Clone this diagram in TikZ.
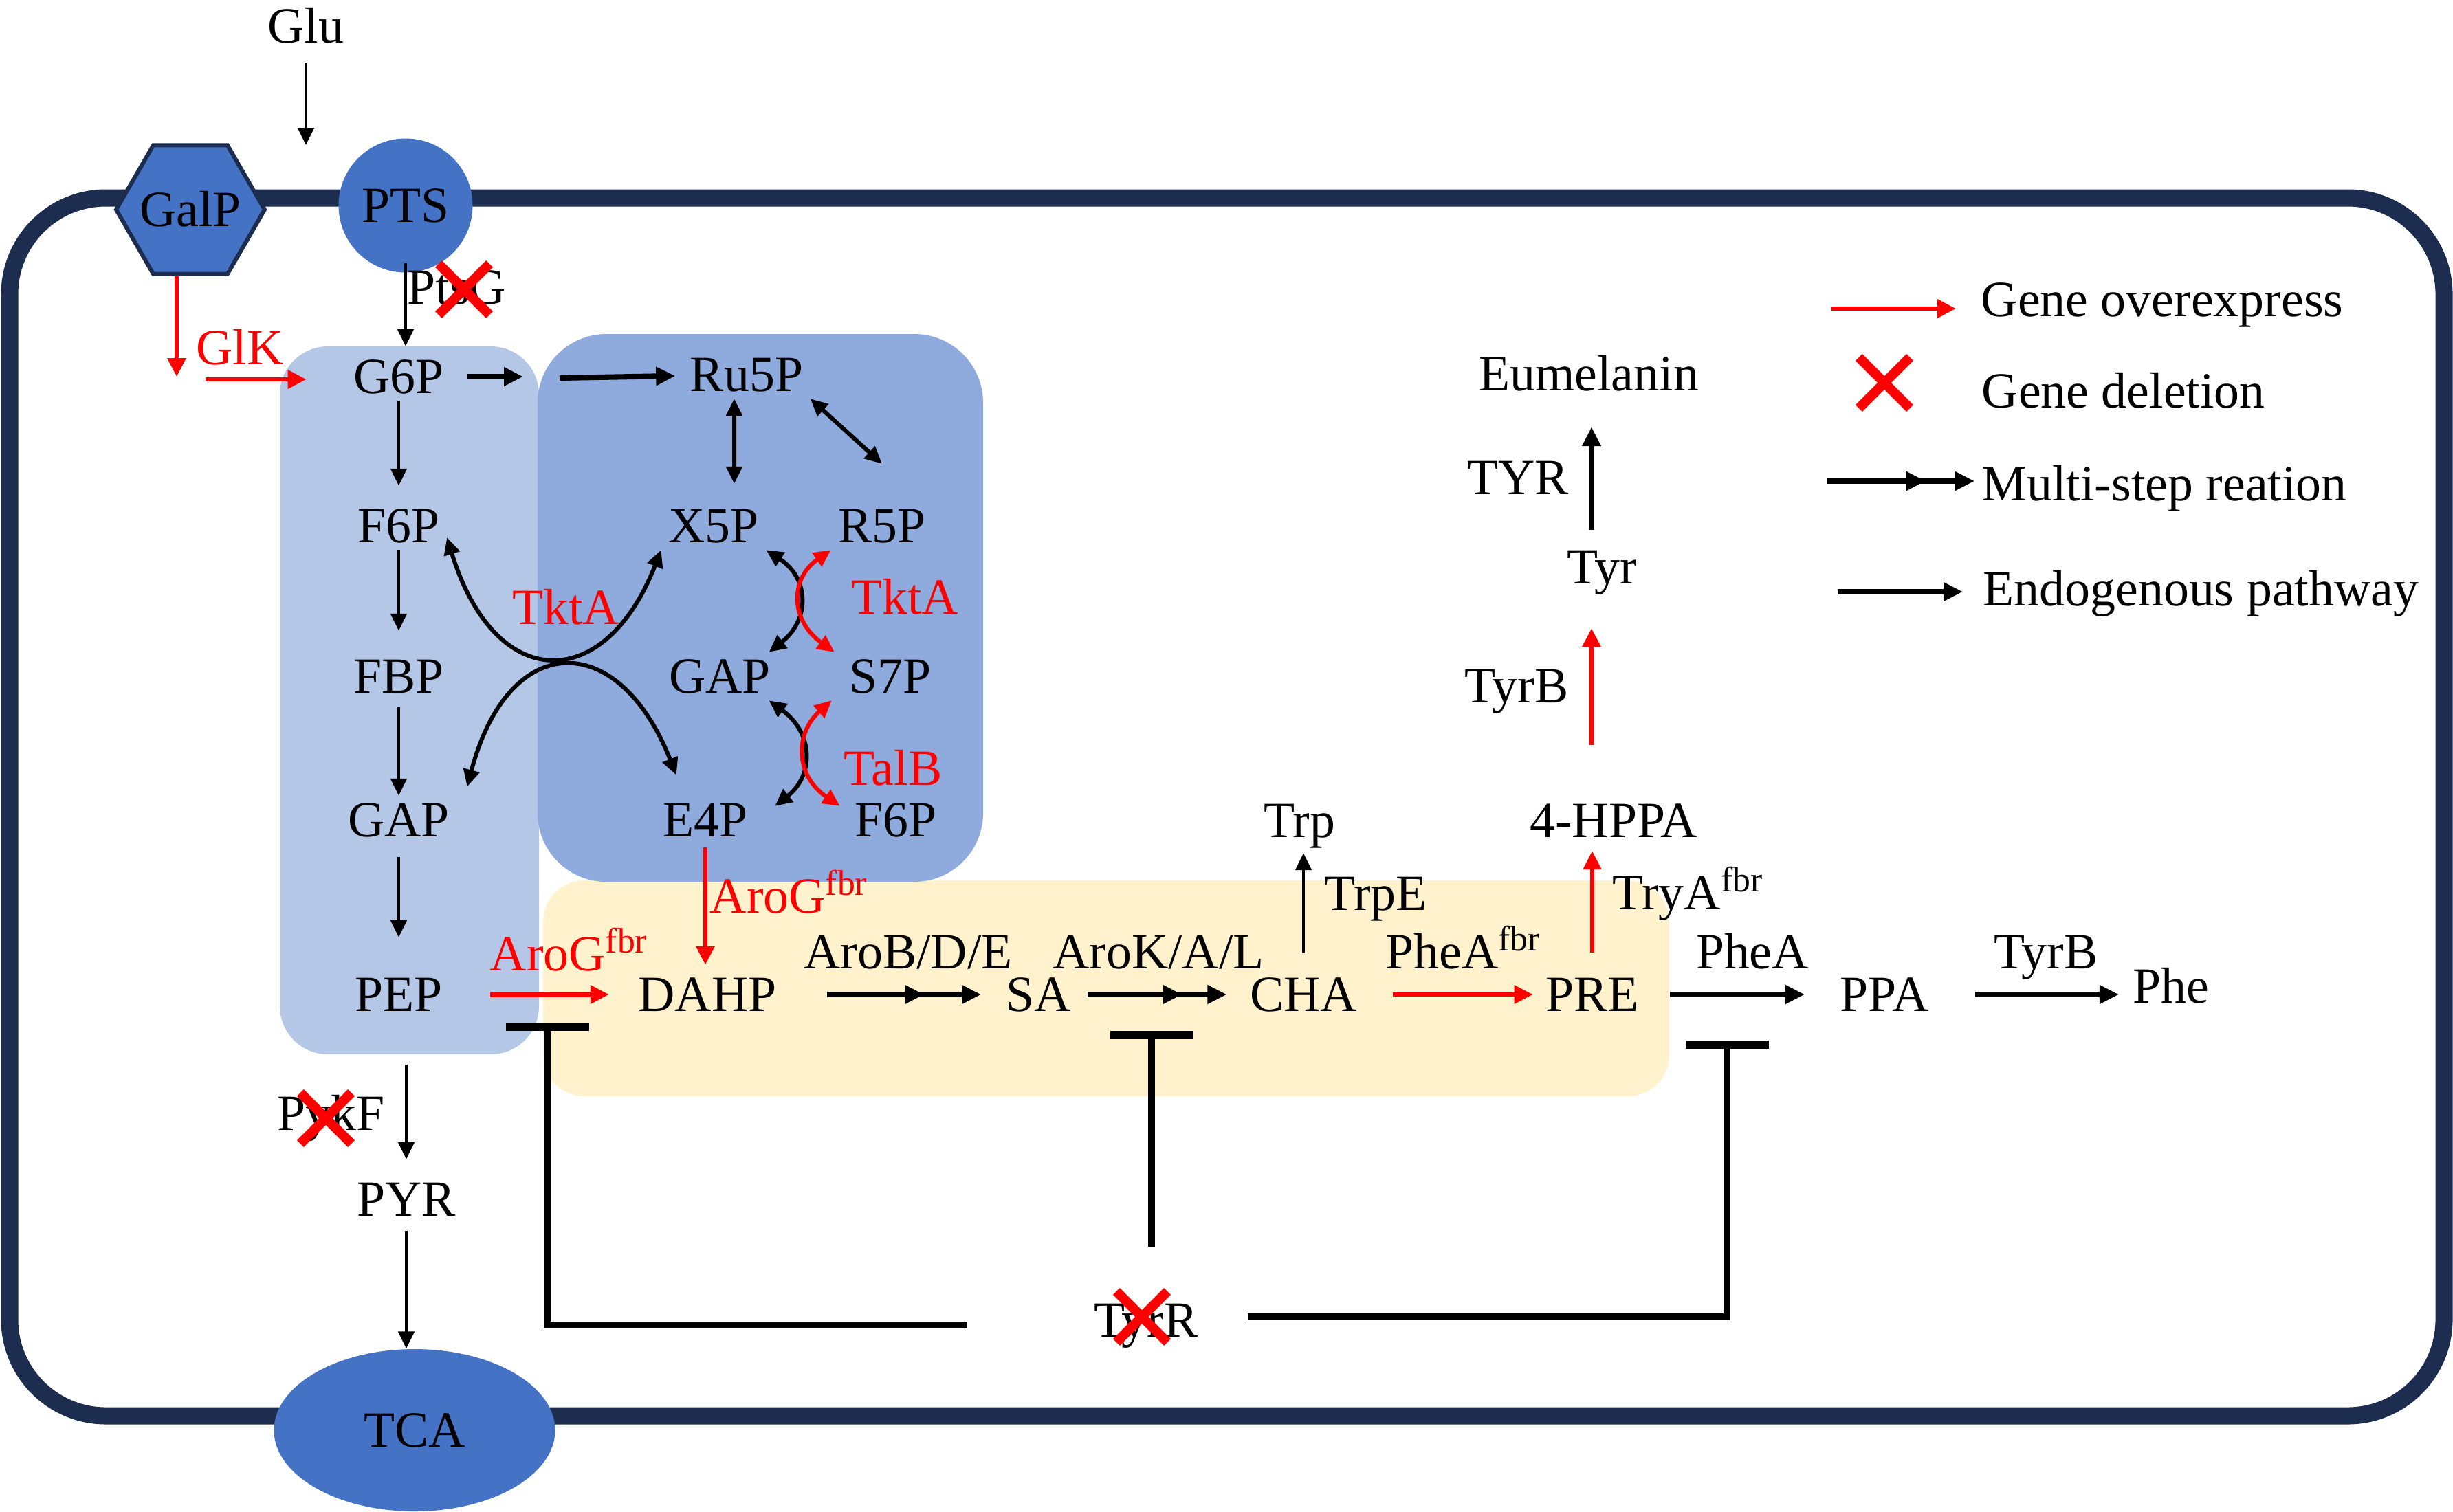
\documentclass[tikz,border=0pt]{standalone}
\usepackage{fontspec}
\setmainfont{Liberation Serif}
\usetikzlibrary{arrows.meta,shapes.geometric,shapes.misc,decorations.markings}
\definecolor{membr}{HTML}{1C2D50}
\definecolor{protblue}{HTML}{4472C4}
\definecolor{glycbox}{HTML}{B4C7E7}
\definecolor{pppbox}{HTML}{8FAADC}
\definecolor{aabox}{HTML}{FFF2CC}
\tikzset{
  arr/.style={-{Triangle[length=0.25cm,width=0.23cm]}, line width=1.4pt},
  arrd/.style={{Triangle[length=0.25cm,width=0.23cm]}-{Triangle[length=0.25cm,width=0.23cm]}, line width=1.7pt},
  arrb/.style={-{Triangle[length=0.28cm,width=0.26cm]}, line width=2.3pt},
  oe/.style={red, -{Triangle[length=0.27cm,width=0.26cm]}, line width=1.9pt},
  multi/.style={arrb, postaction={decorate}, decoration={markings, mark=at position #1 with {\arrow{Triangle[length=0.28cm,width=0.26cm]}}}},
  multi/.default=0.65,
  inhib/.style={-{Bar[width=1.21cm,line width=3.4pt]}, line width=2.8pt},
  delx/.style={cross out, draw=red, line width=4pt, minimum size=0.6cm, inner sep=0pt}
}
\begin{document}
\begin{tikzpicture}[font=\fontsize{21}{25}\selectfont,
  every node/.append style={inner sep=0.1cm, text height=0.49cm, text depth=0cm}]
\useasboundingbox (0,0) rectangle (35.68,-21.99);
\fill[aabox, rounded corners=0.6cm] (7.90,-12.81) rectangle (24.28,-15.95);
\fill[glycbox, rounded corners=0.7cm] (4.07,-5.04) rectangle (7.84,-15.34);
\fill[pppbox, rounded corners=1.0cm] (7.82,-4.86) rectangle (14.30,-12.83);
\draw[membr, line width=0.25cm, rounded corners=1.4cm] (0.14,-2.88) rectangle (35.55,-20.60);

\node (glu) at (4.45,-0.38) {Glu};
\node[regular polygon, regular polygon sides=6, minimum size=2.16cm, inner sep=0pt, text height=0cm, fill=protblue, draw=membr, line width=1.7pt, label={center:GalP}] (galp) at (2.77,-3.05) {};
\node[circle, minimum size=1.95cm, fill=protblue] (pts) at (5.90,-2.99) {PTS};
\node[ellipse, minimum width=4.09cm, minimum height=2.36cm, fill=protblue] (tca) at (6.03,-20.81) {TCA};

\node (g6p) at (5.80,-5.48) {G6P};
\node (f6p) at (5.80,-7.65) {F6P};
\node (fbp) at (5.80,-9.84) {FBP};
\node (gapA) at (5.80,-11.93) {GAP};
\node (pep) at (5.80,-14.47) {PEP};
\node (pyr) at (5.91,-17.45) {PYR};

\node (ru5p) at (10.86,-5.45) {Ru5P};
\node (x5p) at (10.38,-7.65) {X5P};
\node (r5p) at (12.83,-7.65) {R5P};
\node (gapB) at (10.47,-9.84) {GAP};
\node (s7p) at (12.95,-9.84) {S7P};
\node (e4p) at (10.26,-11.93) {E4P};
\node (f6pB) at (13.03,-11.93) {F6P};

\node (dahp) at (10.29,-14.47) {DAHP};
\node (sa) at (15.11,-14.47) {SA};
\node (cha) at (18.96,-14.47) {CHA};
\node (pre) at (23.16,-14.47) {PRE};
\node (ppa) at (27.41,-14.47) {PPA};
\node (phe) at (31.58,-14.35) {Phe};
\node (trp) at (18.90,-11.94) {Trp};
\node (hppa) at (23.47,-11.94) {4-HPPA};
\node (tyr) at (23.30,-8.25) {Tyr};
\node (eumel) at (23.11,-5.44) {Eumelanin};
\node (tyrr) at (16.67,-19.21) {TyrR};

\node[anchor=west] (ptsg) at (5.82,-4.18) {PtsG};
\node[red] (glk) at (3.49,-5.06) {GlK};
\node[anchor=east] (pykf) at (5.70,-16.20) {PykF};
\node[red] (tkta1) at (8.23,-8.84) {TktA};
\node[red] (tkta2) at (13.16,-8.69) {TktA};
\node[red] (talb) at (12.99,-11.18) {TalB};
\node[red, anchor=west] (arog1) at (7.02,-13.88) {AroG\textsuperscript{fbr}};
\node[red, anchor=west] (arog2) at (10.22,-13.04) {AroG\textsuperscript{fbr}};
\node (arobde) at (13.21,-13.85) {AroB/D/E};
\node (arokal) at (16.85,-13.85) {AroK/A/L};
\node[anchor=west] (trpe) at (19.16,-13.00) {TrpE};
\node[anchor=west] (phea1) at (20.05,-13.85) {PheA\textsuperscript{fbr}};
\node[anchor=west] (trya) at (23.35,-12.99) {TryA\textsuperscript{fbr}};
\node (phea2) at (25.49,-13.85) {PheA};
\node (tyrb2) at (29.76,-13.85) {TyrB};
\node (tyrb1) at (22.06,-9.98) {TyrB};
\node (tyrlab) at (22.08,-6.95) {TYR};

\coordinate (gluin) at (4.45,-2.11);
\coordinate (galpout) at (2.57,-5.48);
\coordinate (glkin) at (2.99,-5.52);
\coordinate (pppin) at (7.61,-5.49);
\coordinate (pppout) at (8.14,-5.50);
\coordinate (pepbar) at (7.96,-14.88);
\coordinate (sabar) at (16.75,-15.00);
\coordinate (prebar) at (25.12,-15.14);

\draw[arr, shorten <=0.18cm] (glu) -- (gluin);
\draw[arr, shorten <=-0.14cm, shorten >=0.09cm] (pts.south) -- (pts.south |- g6p.north);
\draw[oe, line width=1.7pt] ([xshift=-0.2cm]galp.south) -- (galpout);
\draw[oe, shorten >=0.58cm] (glkin) -- (glkin -| g6p.west);
\draw[arr, shorten >=0.23cm] (g6p) -- (f6p);
\draw[arr, shorten >=0.31cm] (f6p) -- (fbp);
\draw[arr, shorten <=0.10cm] (fbp) -- (gapA);
\draw[arr, shorten <=0.19cm, shorten >=0.48cm] (gapA) -- (pep);
\draw[arr, shorten <=0.67cm, shorten >=0.23cm] (pep.south -| pyr) -- (pyr.north);
\draw[arr, shorten <=0.11cm] (pyr.south) -- (pyr.south |- tca.north);
\draw[arrb, shorten <=0.24cm] (g6p) -- (g6p -| pppin);
\draw[arrb, shorten >=0.11cm] (pppout) -- (ru5p);

\draw[arrd, shorten >=0.26cm] ([xshift=-0.18cm]ru5p.south) -- ([xshift=0.30cm]x5p.north);
\draw[arrd] (ru5p.south east) -- ([yshift=0.55cm]r5p.north);
\draw[arrd] ([yshift=-0.17cm]f6p.east) .. controls (7.20,-10.10) and (8.80,-10.10) .. (x5p.south west);
\draw[arrd] ([xshift=0.15cm,yshift=0.13cm]gapA.north east) .. controls (7.40,-9.15) and (9.00,-9.15) .. ([xshift=0.3cm,yshift=0.3cm]e4p.north west);
\draw[arrd] (x5p.south east) .. controls (11.78,-8.42) and (11.78,-9.02) .. ([xshift=-0.13cm]gapB.north east);
\draw[arrd, red] (r5p.south west) .. controls (11.49,-8.42) and (11.49,-9.02) .. ([xshift=-0.11cm]s7p.north west);
\draw[arrd] ([xshift=-0.13cm]gapB.south east) .. controls (11.84,-10.67) and (11.84,-11.28) .. ([xshift=0.29cm,yshift=-0.15cm]e4p.north east);
\draw[arrd, red] ([xshift=-0.15cm]s7p.south west) .. controls (11.56,-10.67) and (11.56,-11.28) .. ([xshift=-0.11cm,yshift=-0.15cm]f6pB.north west);

\draw[oe, shorten <=0.05cm, shorten >=0.08cm] (e4p.south) -- (e4p.south |- dahp.north);
\draw[oe, line width=2.3pt, shorten <=0.59cm, shorten >=0.32cm] (pep) -- (dahp);
\draw[multi=0.63] ([xshift=0.63cm]dahp.east) -- ([xshift=-0.26cm]sa.west);
\draw[multi=0.68] ([xshift=0.13cm]sa.east) -- ([xshift=-0.23cm]cha.west);
\draw[arr, shorten <=0.25cm, shorten >=0.12cm] (cha) -- (cha |- trp.south);
\draw[oe, line width=1.7pt, shorten <=0.41cm, shorten >=0.08cm] (cha) -- (pre);
\draw[oe, line width=1.5pt, shorten <=0.26cm, shorten >=0.09cm] (pre) -- (pre |- hppa.south);
\draw[arrb, shorten <=0.35cm, shorten >=0.41cm] (pre) -- (ppa);
\draw[arrb, shorten <=0.57cm, shorten >=0.10cm] (ppa) -- (ppa -| phe.west);
\draw[oe, shorten <=0.75cm, shorten >=0.54cm] ([xshift=-0.32cm]hppa.north) -- ([xshift=-0.15cm]tyr.south);
\draw[arrb, line width=2pt, shorten <=0.19cm, shorten >=0.42cm] ([xshift=-0.15cm]tyr.north) -- ([xshift=0.04cm]eumel.south);

\draw[inhib] ([xshift=-1.74cm,yshift=-0.07cm]tyrr.west) -| (pepbar);
\draw[inhib] ([xshift=0.08cm,yshift=0.72cm]tyrr.north) -- (sabar);
\draw[inhib] ([xshift=0.62cm,yshift=0.05cm]tyrr.east) -| (prebar);

\node[delx] (xptsg) at (6.75,-4.21) {};
\node[delx] (xpykf) at (4.74,-16.27) {};
\node[delx] (xtyrr) at (16.61,-19.16) {};

\node[anchor=west] (lgt1) at (28.71,-4.36) {Gene overexpress};
\node[anchor=west] (lgt2) at (28.72,-5.69) {Gene deletion};
\node[anchor=west] (lgt3) at (28.72,-7.04) {Multi-step reation};
\node[anchor=west] (lgt4) at (28.74,-8.57) {Endogenous pathway};
\coordinate (lg1) at (26.64,-4.49);
\coordinate (lg3) at (26.57,-7.00);
\coordinate (lg4) at (26.73,-8.61);
\draw[oe, shorten >=0.26cm] (lg1) -- (lg1 -| lgt1.west);
\node[delx] (xleg) at (27.41,-5.57) {};
\draw[multi=0.67] (lg3) -- (lg3 -| lgt3.west);
\draw[arrb, shorten >=0.19cm] (lg4) -- (lg4 -| lgt4.west);
\end{tikzpicture}
\end{document}
